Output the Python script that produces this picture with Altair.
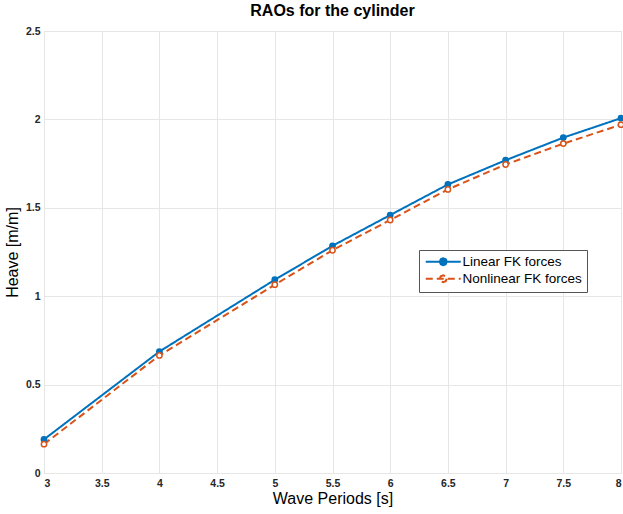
import altair as alt
import pandas as pd

periods = [3, 4, 5, 5.5, 6, 6.5, 7, 7.5, 8]
linear_fk = [0.190, 0.687, 1.093, 1.285, 1.459, 1.632, 1.769, 1.897, 2.007]
nonlinear_fk = [0.163, 0.665, 1.065, 1.260, 1.431, 1.604, 1.745, 1.863, 1.970]
series_names = ["Linear FK forces", "Nonlinear FK forces"]
series_colors = ["#0072BD", "#D95319"]
marker_fills = ["#0072BD", "#FFFFFF"]
x_ticks = [3, 3.5, 4, 4.5, 5, 5.5, 6, 6.5, 7, 7.5, 8]
y_ticks = [0, 0.5, 1, 1.5, 2, 2.5]

rows = []
for name, vals in zip(series_names, [linear_fk, nonlinear_fk]):
    for p, v in zip(periods, vals):
        rows.append({"period": p, "heave": v, "series": name})
df = pd.DataFrame(rows)

FONT = "Liberation Sans"

common_axis = dict(
    grid=True, gridColor="#e6e6e6", gridWidth=1,
    domain=False, ticks=False,
    labelFont=FONT, labelFontSize=10.5, labelFontWeight="bold", labelColor="#262626",
    titleFont=FONT, titleFontSize=16, titleFontWeight="normal", titleColor="#000000",
)

x_enc = alt.X("period:Q", scale=alt.Scale(domain=[3, 8], nice=False, zero=False),
              axis=alt.Axis(values=x_ticks, format="~g", title="Wave Periods [s]",
                            labelPadding=5, titlePadding=2, **common_axis))
y_enc = alt.Y("heave:Q", scale=alt.Scale(domain=[0, 2.5], nice=False),
              axis=alt.Axis(values=y_ticks, format="~g", title="Heave [m/m]",
                            labelPadding=4, titlePadding=5, **common_axis))

legend_symbol = ("M -1 0 L 6 0 "
                 "M 3.2 0 L 2.995 0.495 L 2.5 0.7 L 2.005 0.495 L 1.8 0 "
                 "L 2.005 -0.495 L 2.5 -0.7 L 2.995 -0.495 Z")

leg = alt.Legend(title=None, orient="none", legendX=375, legendY=219,
                 symbolType=legend_symbol, symbolSize=100, symbolStrokeWidth=2,
                 labelOffset=25, rowPadding=1, padding=5,
                 strokeColor="#555555", fillColor="#FFFFFF",
                 labelFontSize=13.5, labelFont=FONT, labelColor="#000000")

lines = alt.Chart(df).mark_line(strokeWidth=2).encode(
    x=x_enc, y=y_enc,
    color=alt.Color("series:N", scale=alt.Scale(domain=series_names, range=series_colors), legend=leg),
    strokeDash=alt.StrokeDash("series:N", scale=alt.Scale(domain=series_names, range=[[1, 0], [7, 4]]), legend=leg),
    order="period:Q",
)

points = alt.Chart(df).mark_point(filled=False, shape="circle", size=28, strokeWidth=1.5, opacity=1).encode(
    x=x_enc, y=y_enc,
    stroke=alt.Stroke("series:N", scale=alt.Scale(domain=series_names, range=series_colors), legend=None),
    fill=alt.Fill("series:N", scale=alt.Scale(domain=series_names, range=marker_fills), legend=None),
)

chart = alt.layer(lines, points).properties(
    width=577, height=442,
    autosize="none",
    padding={"left": 44, "top": 31, "right": 2, "bottom": 40},
    title=alt.Title("RAOs for the cylinder", fontSize=16, font=FONT, fontWeight="bold",
                    color="#000000", offset=7, anchor="middle"),
).configure_view(
    stroke="#8c8c8c", strokeWidth=1
).configure(background="#FFFFFF")

chart.save("out.html", embed_options={"renderer": "svg", "actions": False})
